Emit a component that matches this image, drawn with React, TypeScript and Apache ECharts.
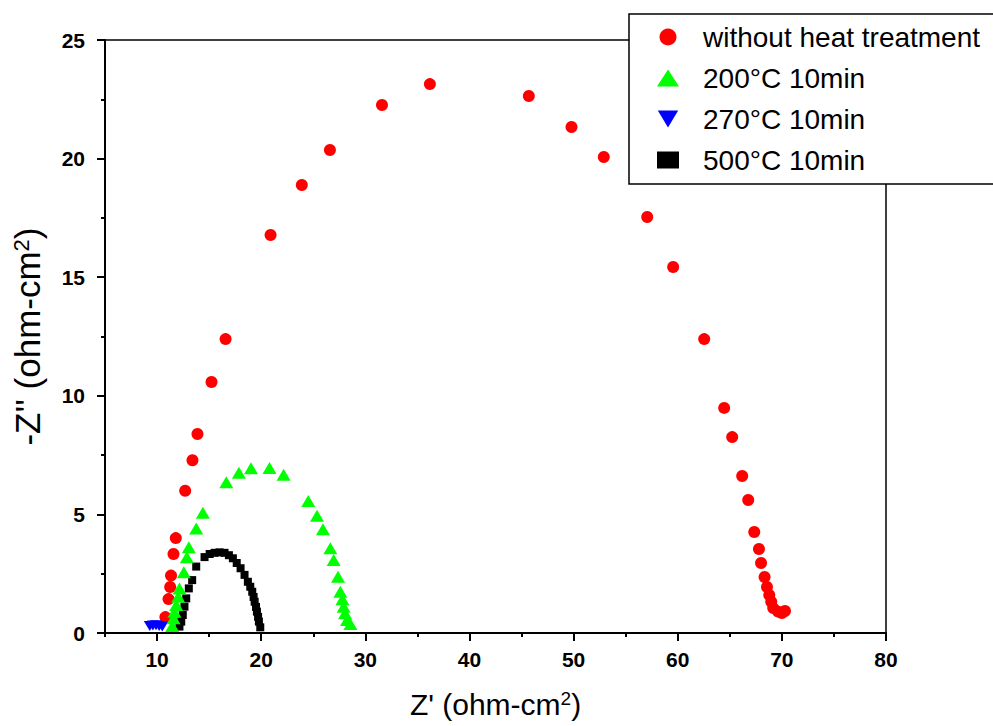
import React, { useEffect, useRef } from "react";
import * as echarts from "echarts";

// Nyquist data: [Z', -Z''] in ohm-cm^2
const noHeat: number[][] = [
  [10.8, 0.67], [11.1, 1.43], [11.26, 1.94], [11.34, 2.42], [11.58, 3.33], [11.8, 4.0],
  [12.7, 6.0], [13.4, 7.28], [13.88, 8.39], [15.23, 10.58], [16.58, 12.39], [20.9, 16.78],
  [23.9, 18.89], [26.6, 20.36], [31.6, 22.26], [36.2, 23.14], [45.7, 22.64], [49.8, 21.33],
  [52.9, 20.07], [57.07, 17.54], [59.56, 15.43], [62.54, 12.39], [64.46, 9.49], [65.23, 8.26],
  [66.19, 6.62], [66.77, 5.61], [67.35, 4.26], [67.8, 3.54], [68.0, 2.95], [68.34, 2.36],
  [68.57, 1.94], [68.79, 1.6], [68.98, 1.32], [69.17, 1.05], [69.65, 0.9], [70.0, 0.84], [70.3, 0.93],
];
const heat200: number[][] = [
  [11.45, 0.3], [11.58, 0.62], [11.67, 0.9], [11.84, 1.18], [12.03, 1.53], [12.15, 1.88],
  [12.57, 2.56], [12.86, 3.19], [13.05, 3.61], [13.76, 4.41], [14.4, 5.07], [16.65, 6.36],
  [17.86, 6.76], [19.02, 6.95], [20.8, 6.96], [22.15, 6.67], [24.52, 5.56], [25.36, 4.94],
  [25.93, 4.37], [26.64, 3.57], [26.96, 3.08], [27.38, 2.37], [27.6, 1.74], [27.8, 1.42],
  [27.92, 1.11], [28.05, 0.83], [28.24, 0.55], [28.57, 0.38],
];
const heat270: number[][] = [
  [9.3, 0.3], [9.6, 0.32], [9.9, 0.33], [10.2, 0.3], [10.5, 0.27],
];
const heat500: number[][] = [
  [12.15, 0.27], [12.32, 0.48], [12.47, 0.76], [12.63, 1.11], [12.8, 1.46], [13.05, 1.88],
  [13.37, 2.23], [13.76, 2.8], [14.56, 3.2], [15.05, 3.33], [15.52, 3.38], [16.0, 3.4],
  [16.48, 3.38], [16.9, 3.28], [17.28, 3.15], [17.65, 2.95], [18.02, 2.73], [18.4, 2.45],
  [18.72, 2.16], [18.95, 1.95], [19.14, 1.74], [19.27, 1.52], [19.37, 1.32], [19.5, 1.1],
  [19.59, 0.9], [19.7, 0.68], [19.78, 0.48], [19.91, 0.24],
];

const seriesNames = ["without heat treatment", "200°C 10min", "270°C 10min", "500°C 10min"];
const xMajorTicks = [10, 20, 30, 40, 50, 60, 70, 80];
const xMinorTicks = [5, 15, 25, 35, 45, 55, 65, 75];

const FONT = "Arial, 'Liberation Sans', Helvetica, sans-serif";
const DOWN_TRIANGLE = "path://M0,0 L12,0 L6,10 Z";

export default function App() {
  const ref = useRef<HTMLDivElement>(null);
  useEffect(() => {
    if (!ref.current) return;
    const chart = echarts.init(ref.current, null, { renderer: "svg" });
    const tickLabel = { fontFamily: FONT, fontSize: 21, fontWeight: "bold" as const, color: "#000" };
    const nameStyle = (size: number) => ({
      fontFamily: FONT,
      fontSize: size,
      color: "#000",
      rich: { s: { fontFamily: FONT, fontSize: Math.round(size * 0.62), color: "#000", verticalAlign: "top" as const } },
    });
    chart.setOption({
      animation: false,
      backgroundColor: "#fff",
      grid: { left: 105, right: 107, top: 40, bottom: 93, show: true, borderColor: "#000", borderWidth: 1.5, containLabel: false },
      xAxis: [
        {
          type: "value",
          min: 5,
          max: 80,
          position: "bottom",
          axisLine: { onZero: false, lineStyle: { color: "#000", width: 2 } },
          axisTick: { customValues: xMajorTicks, length: 8, lineStyle: { color: "#000", width: 2 } },
          axisLabel: { customValues: xMajorTicks, margin: 16, ...tickLabel },
          splitLine: { show: false },
          name: "Z' (ohm-cm{s|2})",
          nameLocation: "middle",
          nameGap: 56,
          nameTextStyle: nameStyle(30),
        },
        {
          type: "value",
          min: 5,
          max: 80,
          position: "bottom",
          axisLine: { show: false, onZero: false },
          axisTick: { customValues: xMinorTicks, length: 4, lineStyle: { color: "#000", width: 2 } },
          axisLabel: { show: false },
          splitLine: { show: false },
        },
      ],
      yAxis: {
        type: "value",
        min: 0,
        max: 25,
        interval: 5,
        axisLine: { onZero: false, lineStyle: { color: "#000", width: 2 } },
        axisTick: { length: 8, lineStyle: { color: "#000", width: 2 } },
        minorTick: { show: true, splitNumber: 2, length: 4, lineStyle: { color: "#000", width: 2 } },
        axisLabel: { margin: 20, ...tickLabel },
        splitLine: { show: false },
        name: "-Z'' (ohm-cm{s|2})",
        nameLocation: "middle",
        nameGap: 60,
        nameTextStyle: nameStyle(35),
      },
      legend: {
        orient: "vertical",
        left: 652,
        top: 18,
        itemWidth: 22,
        itemHeight: 17,
        itemGap: 13,
        data: seriesNames,
        textStyle: { fontFamily: FONT, fontSize: 28, color: "#000", padding: [0, 0, 0, 19] },
        z: 5,
      },
      graphic: [
        {
          type: "rect",
          z: 3,
          shape: { x: 629, y: 14, width: 372, height: 170 },
          style: { fill: "#fff", stroke: "#000", lineWidth: 1.5 },
        },
      ],
      series: [
        {
          name: seriesNames[3],
          type: "scatter",
          data: heat500,
          symbol: "rect",
          symbolSize: 8,
          itemStyle: { color: "#000000", opacity: 1 },
          z: 2,
        },
        {
          name: seriesNames[0],
          type: "scatter",
          data: noHeat,
          symbol: "circle",
          symbolSize: 12,
          itemStyle: { color: "#ff0000", opacity: 1 },
          z: 2,
        },
        {
          name: seriesNames[2],
          type: "scatter",
          data: heat270,
          symbol: DOWN_TRIANGLE,
          symbolSize: [12, 10],
          itemStyle: { color: "#0000ff", opacity: 1 },
          z: 2,
        },
        {
          name: seriesNames[1],
          type: "scatter",
          data: heat200,
          symbol: "triangle",
          symbolSize: [14, 12],
          itemStyle: { color: "#00ff00", opacity: 1 },
          z: 2,
        },
      ],
    });
    return () => chart.dispose();
  }, []);
  return <div ref={ref} style={{ position: "absolute", left: 0, top: 0, width: 993, height: 726 }} />;
}
